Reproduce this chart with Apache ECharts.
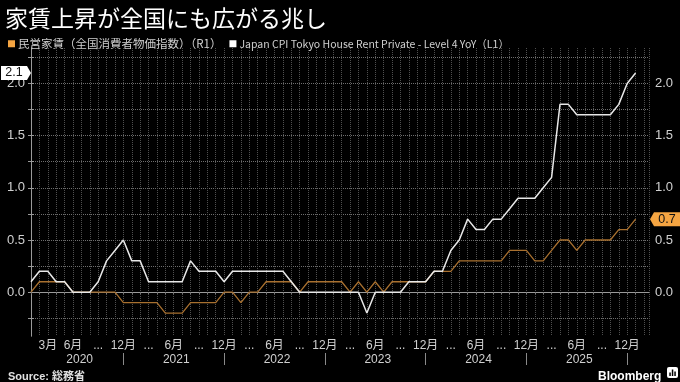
<!DOCTYPE html>
<html><head><meta charset="utf-8">
<script src="https://cdn.jsdelivr.net/npm/echarts@6/dist/echarts.min.js"></script>
<style>html,body{margin:0;padding:0;background:#000}#c{width:680px;height:382px}</style>
</head><body><div id="c"></div>
<script>
const months = [
 "2020-01","2020-02","2020-03","2020-04","2020-05","2020-06","2020-07","2020-08","2020-09","2020-10","2020-11","2020-12",
 "2021-01","2021-02","2021-03","2021-04","2021-05","2021-06","2021-07","2021-08","2021-09","2021-10","2021-11","2021-12",
 "2022-01","2022-02","2022-03","2022-04","2022-05","2022-06","2022-07","2022-08","2022-09","2022-10","2022-11","2022-12",
 "2023-01","2023-02","2023-03","2023-04","2023-05","2023-06","2023-07","2023-08","2023-09","2023-10","2023-11","2023-12",
 "2024-01","2024-02","2024-03","2024-04","2024-05","2024-06","2024-07","2024-08","2024-09","2024-10","2024-11","2024-12",
 "2025-01","2025-02","2025-03","2025-04","2025-05","2025-06","2025-07","2025-08","2025-09","2025-10","2025-11","2025-12",
 "2026-01"];
// 民営家賃（全国消費者物価指数） (R1)
const rentNational = [
 0.0,0.1,0.1,0.1,0.1,0.0,0.0,0.0,0.0,0.0,
 0.0,-0.1,-0.1,-0.1,-0.1,-0.1,-0.2,-0.2,-0.2,-0.1,
 -0.1,-0.1,-0.1,0.0,0.0,-0.1,0.0,0.0,0.1,0.1,
 0.1,0.1,0.0,0.1,0.1,0.1,0.1,0.1,0.0,0.1,
 0.0,0.1,0.0,0.1,0.1,0.1,0.1,0.1,0.2,0.2,
 0.2,0.3,0.3,0.3,0.3,0.3,0.3,0.4,0.4,0.4,
 0.3,0.3,0.4,0.5,0.5,0.4,0.5,0.5,0.5,0.5,
 0.6,0.6,0.7];
// Japan CPI Tokyo House Rent Private (L1)
const rentTokyo = [
 0.1,0.2,0.2,0.1,0.1,0.0,0.0,0.0,0.1,0.3,
 0.4,0.5,0.3,0.3,0.1,0.1,0.1,0.1,0.1,0.3,
 0.2,0.2,0.2,0.1,0.2,0.2,0.2,0.2,0.2,0.2,
 0.2,0.1,0.0,0.0,0.0,0.0,0.0,0.0,0.0,0.0,
 -0.2,0.0,0.0,0.0,0.0,0.1,0.1,0.1,0.2,0.2,
 0.4,0.5,0.7,0.6,0.6,0.7,0.7,0.8,0.9,0.9,
 0.9,1.0,1.1,1.8,1.8,1.7,1.7,1.7,1.7,1.7,
 1.8,2.0,2.1];
const monthTickDates = ["2020-03","2020-06","2020-09","2020-12","2021-03","2021-06","2021-09","2021-12",
 "2022-03","2022-06","2022-09","2022-12","2023-03","2023-06","2023-09","2023-12",
 "2024-03","2024-06","2024-09","2024-12","2025-03","2025-06","2025-09","2025-12"];
const monthTickLabels = ["3月","6月","...","12月","...","6月","...","12月",
 "...","6月","...","12月","...","6月","...","12月",
 "...","6月","...","12月","...","6月","...","12月"];
const years = ["2020","2021","2022","2023","2024","2025"];
const yTickLabels = [0.0,0.5,1.0,1.5,2.0];
const nameRent = "民営家賃（全国消費者物価指数）（R1）";
const nameTokyo = "Japan CPI Tokyo House Rent Private - Level 4 YoY（L1）";

const FONT = "'Liberation Sans','Noto Sans CJK JP',sans-serif";
const xMax = months.length - 1 + 1.6;
const yMin = -0.42, yMax = 2.34;
const monthPos = monthTickDates.map(d => months.indexOf(d));
const labelMap = {}; monthPos.forEach((p, k) => labelMap[p] = monthTickLabels[k]);
const yearSep = years.map(y => months.indexOf(y + "-12"));
const yearCenter = years.map((y, k) => {
  const a = Math.max(0, months.indexOf(y + "-01") - 1), b = yearSep[k];
  return (a + b) / 2 + 0.3;
});
const yearMap = {}; yearCenter.forEach((p, k) => yearMap[p.toFixed(3)] = years[k]);
const minorTicks = [];
for (let v = -0.25; v <= 2.26; v += 0.25) minorTicks.push(Math.round(v * 100) / 100);

const chart = echarts.init(document.getElementById('c'), null, {renderer: 'canvas'});
const yAxisBase = (pos) => ({
  type: 'value', position: pos, min: yMin, max: yMax, minInterval: 0.5, maxInterval: 0.5,
  axisLine: {show: true, lineStyle: {color: '#9a9a9a', width: 1}},
  axisTick: {show: true, customValues: minorTicks, length: 3, lineStyle: {color: '#9a9a9a'}},
  axisLabel: {customValues: yTickLabels, formatter: v => v.toFixed(1), color: '#d0d0d0', fontSize: 13, fontFamily: FONT, margin: 6},
  splitLine: {show: pos === 'left', lineStyle: {color: '#6e6e6e', type: 'dotted', width: 1}}
});
const last = a => a[a.length - 1];

chart.setOption({
  backgroundColor: '#000',
  animation: false,
  title: [
    {text: '家賃上昇が全国にも広がる兆し', left: 0, top: 2,
     textStyle: {color: '#fff', fontSize: 23, fontWeight: 'normal', fontFamily: "'Noto Sans CJK JP',sans-serif"}},
    {text: 'Source: 総務省', left: 3, top: 366,
     textStyle: {color: '#e0e0e0', fontSize: 11, fontWeight: 'bold', fontFamily: FONT}},
    {text: 'Bloomberg', left: 593, top: 366,
     textStyle: {color: '#fff', fontSize: 12, fontWeight: 'bold', fontFamily: FONT}}
  ],
  legend: {
    left: 3, top: 33, itemWidth: 7, itemHeight: 7, itemGap: 8,
    icon: 'rect',
    textStyle: {color: '#d0d0d0', fontSize: 10.5, fontFamily: "'Liberation Sans Narrow','Noto Sans CJK JP',sans-serif", padding: [0, 0, 0, -2]},
    data: [{name: nameRent, itemStyle: {color: '#f5a542'}, textStyle: {fontSize: 11.5}}, {name: nameTokyo, itemStyle: {color: '#ffffff'}}]
  },
  grid: {left: 31, right: 31, top: 48, bottom: 46, containLabel: false},
  xAxis: [
    {type: 'value', min: 0, max: xMax, position: 'bottom',
     axisLine: {show: true, lineStyle: {color: '#9a9a9a'}},
     axisTick: {show: true, customValues: months.map((m, i) => i), length: 2, lineStyle: {color: '#777'}},
     axisLabel: {customValues: monthPos, formatter: v => labelMap[v] || '', color: '#d0d0d0', fontSize: 12, fontFamily: FONT, margin: 4},
     splitLine: {show: false}},
    {type: 'value', min: 0, max: xMax, interval: 1, position: 'top',
     axisLine: {show: false}, axisTick: {show: false}, axisLabel: {show: false},
     splitLine: {show: true, lineStyle: {color: '#4f4f4f', type: 'dotted', width: 1}}},
    {type: 'value', min: 0, max: xMax, position: 'bottom', offset: 17,
     axisLine: {show: false},
     axisTick: {show: true, customValues: yearSep, length: 12, lineStyle: {color: '#8a8a8a'}},
     axisLabel: {customValues: yearCenter, formatter: v => yearMap[v.toFixed(3)] || '', color: '#d0d0d0', fontSize: 12, fontFamily: FONT, margin: 1},
     splitLine: {show: false}}
  ],
  yAxis: [yAxisBase('left'), yAxisBase('right')],
  series: [
    {name: nameRent, type: 'line', xAxisIndex: 0, yAxisIndex: 1, showSymbol: false, symbol: 'none',
     data: rentNational.map((v, i) => [i, v]),
     itemStyle: {color: '#f5a542'}, lineStyle: {color: '#a8702f', width: 1.3}, z: 3,
     markPoint: {silent: true, symbol: 'path://M4,0L30,0L30,14L4,14L0,7Z', symbolSize: [30, 14], symbolOffset: [16, 0],
       itemStyle: {color: '#f5a542'},
       label: {show: true, position: 'inside', formatter: last(rentNational).toFixed(1), color: '#111', fontSize: 12.5, fontFamily: FONT, offset: [2, 0]},
       data: [{coord: [xMax, last(rentNational)]}]}},
    {name: nameTokyo, type: 'line', xAxisIndex: 0, yAxisIndex: 0, showSymbol: false, symbol: 'none',
     data: rentTokyo.map((v, i) => [i, v]),
     itemStyle: {color: '#ffffff'}, lineStyle: {color: '#e8e8e8', width: 1.5}, z: 4,
     markPoint: {silent: true, symbol: 'path://M0,0L26,0L30,7L26,14L0,14Z', symbolSize: [30, 14], symbolOffset: [-15, 0],
       itemStyle: {color: '#ffffff'},
       label: {show: true, position: 'inside', formatter: last(rentTokyo).toFixed(1), color: '#111', fontSize: 12.5, fontFamily: FONT, offset: [-2, 0]},
       data: [{coord: [0, last(rentTokyo)]}]}}
  ],
  graphic: [
    {type: 'group', left: 667, top: 367, children: [
      {type: 'rect', shape: {x: 0, y: 0, width: 11, height: 11, r: 2}, style: {fill: '#fff'}},
      {type: 'rect', shape: {x: 2.3, y: 5.5, width: 1.5, height: 3.5}, style: {fill: '#000'}},
      {type: 'rect', shape: {x: 4.8, y: 2.5, width: 1.5, height: 6.5}, style: {fill: '#000'}},
      {type: 'rect', shape: {x: 7.3, y: 4.5, width: 1.5, height: 4.5}, style: {fill: '#000'}}
    ]}
  ]
});
</script></body></html>
